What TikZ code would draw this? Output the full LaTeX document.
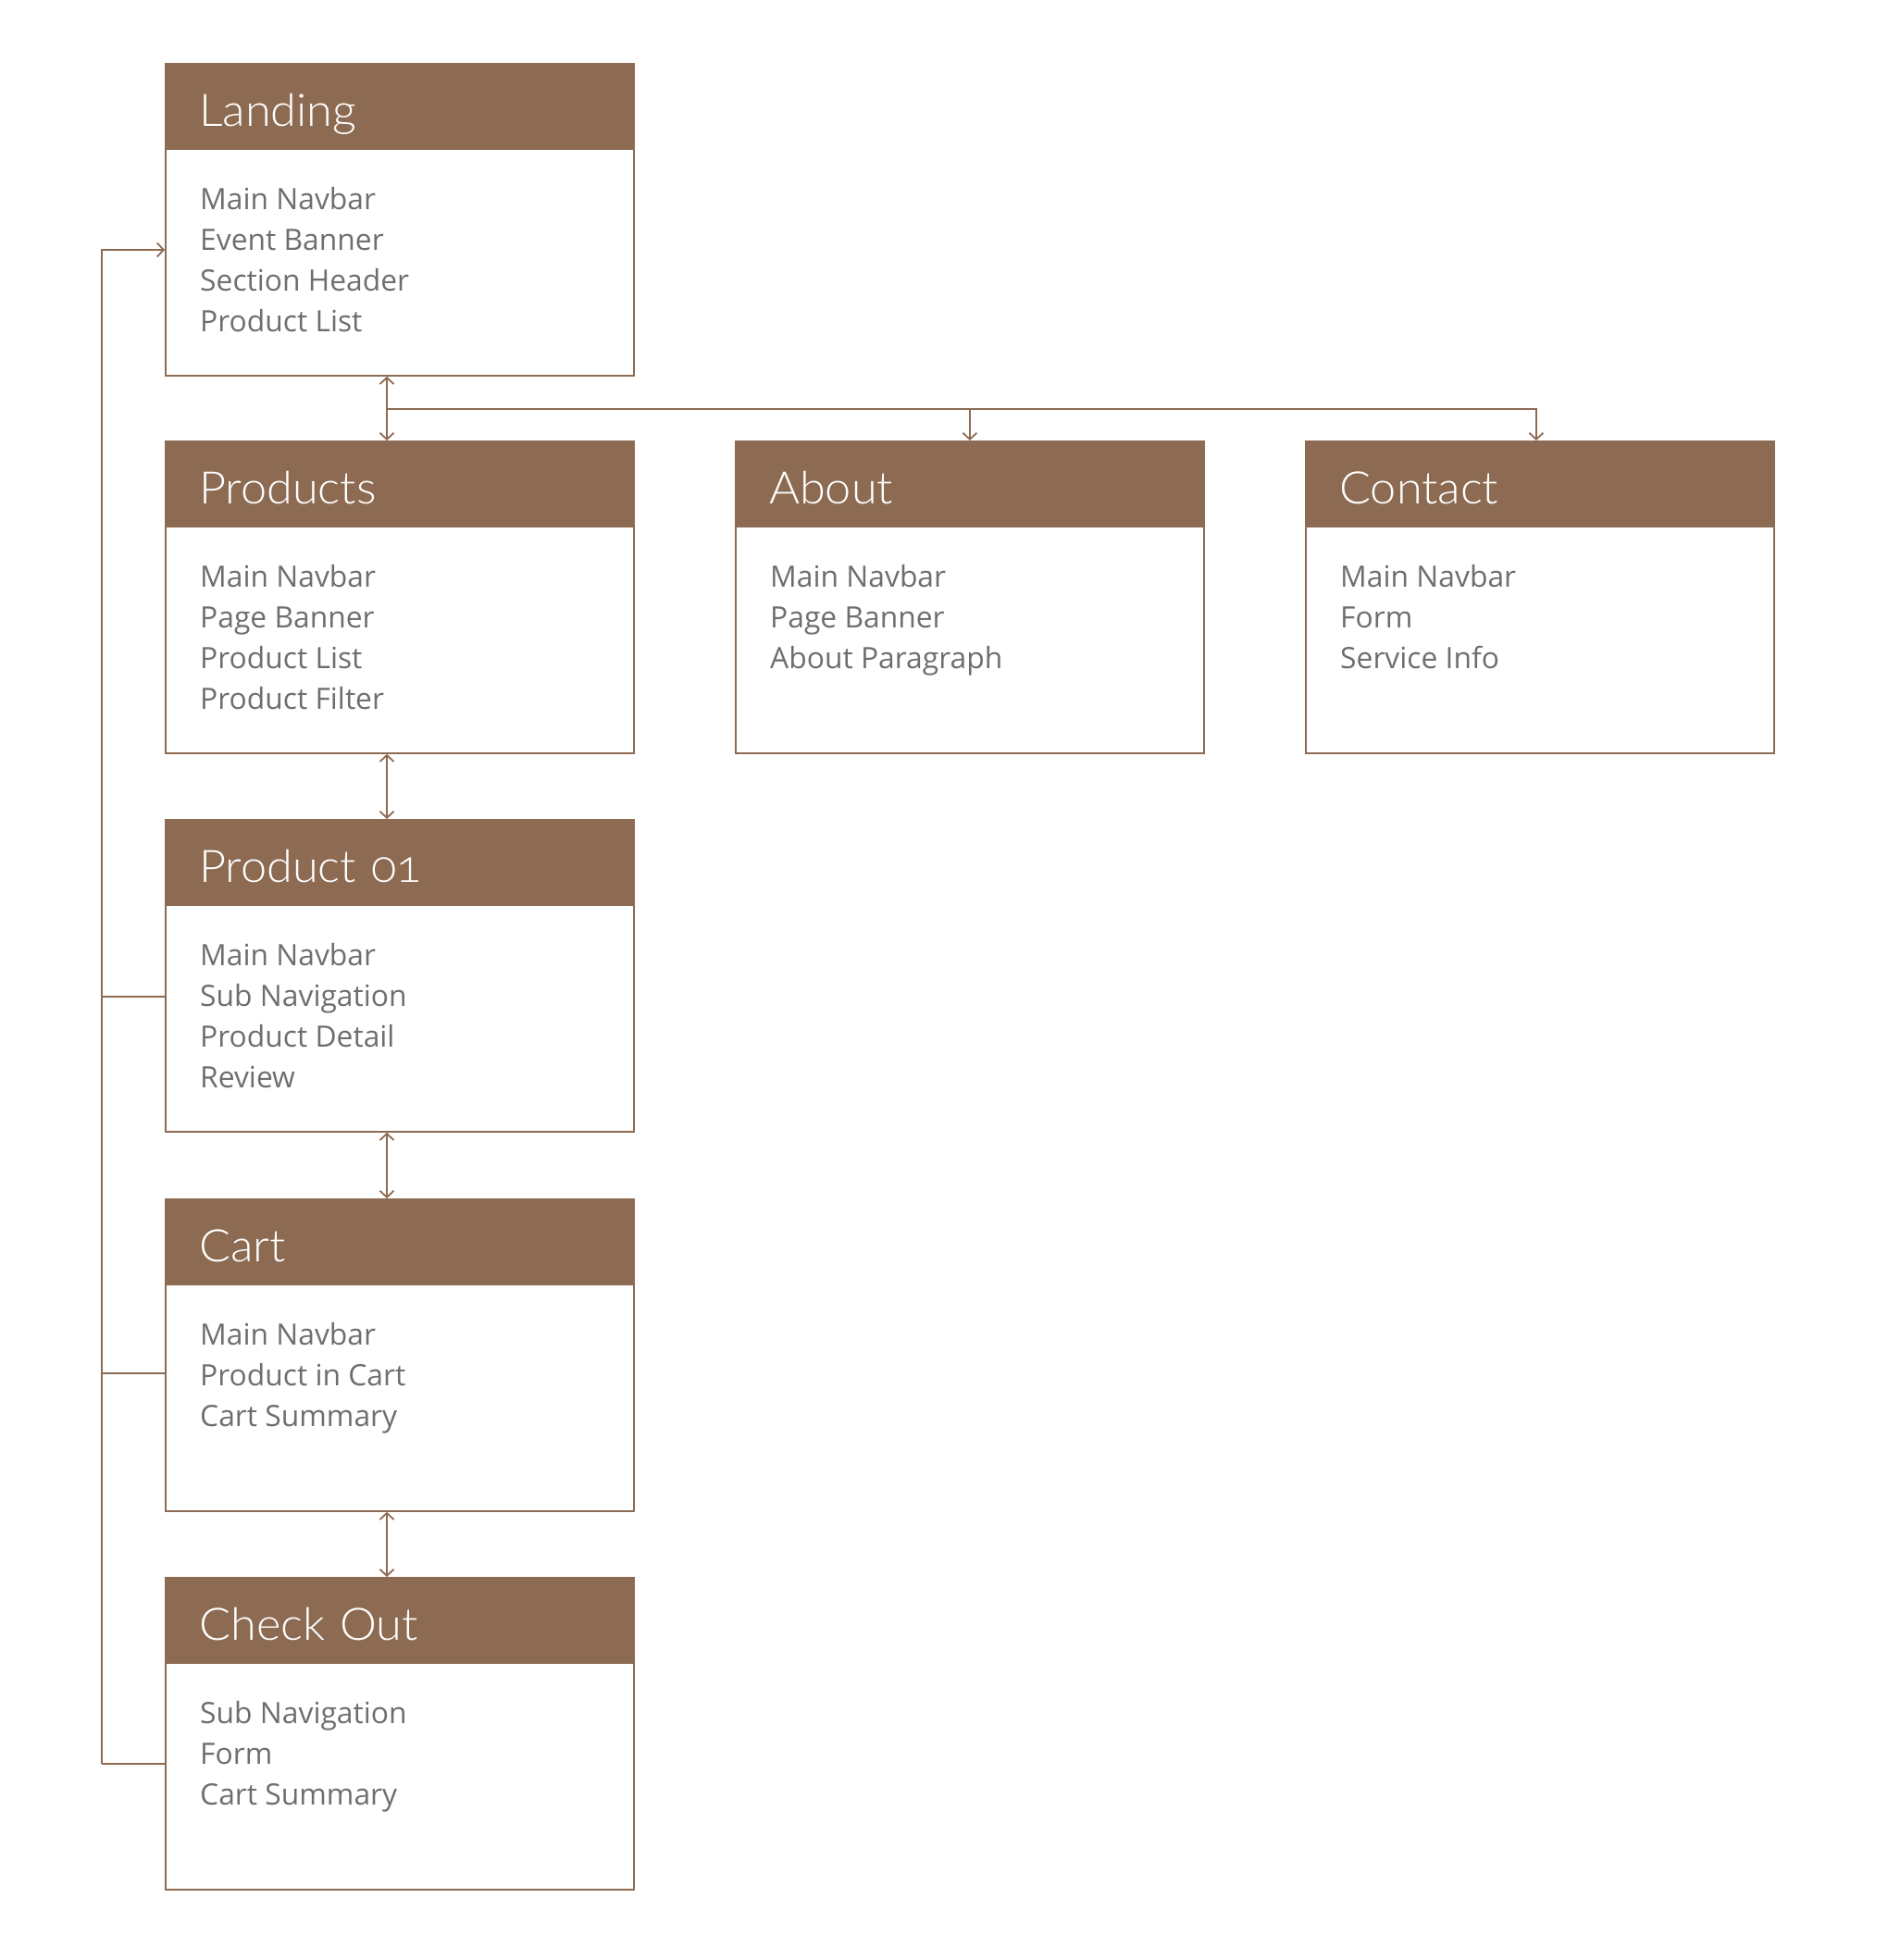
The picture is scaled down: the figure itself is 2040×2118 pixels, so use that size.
\documentclass[tikz,border=0pt]{standalone}
\usepackage{fontspec}
\setmainfont{Open Sans}
\newfontfamily\headfont{Lato Light}[Numbers=OldStyle,FakeStretch=1.04]
\usetikzlibrary{arrows.meta}
\definecolor{pagebrown}{HTML}{8D6B53}
\definecolor{itemgrey}{HTML}{6E6E6E}

\begin{document}
\begin{tikzpicture}[x=1pt,y=-1pt,>={Straight Barb[length=7pt,width=15pt]},
		page/.style={draw=pagebrown,line width=1.8pt,minimum width=506pt,minimum height=337pt,inner sep=0pt,anchor=north west},
		pagehead/.style={fill=pagebrown,text=white,anchor=north west,text width=432pt,inner xsep=37pt,inner ysep=0pt,
			text height=68pt,text depth=26pt,align=left,font=\headfont\fontsize{48.5}{58}\selectfont},
		pageitems/.style={text=itemgrey,anchor=base west,inner sep=0pt,align=left,font=\fontsize{31.8}{44}\selectfont},
		flow/.style={draw=pagebrown,line width=1.8pt}]
			\useasboundingbox (0,0) rectangle (2040,2118);

			% pages (item lists sit on the baseline of their last line)
			\node[page] (landing) at (178,68) {};
			\node[pagehead] at (landing.north west) {Landing};
			\node[pageitems] at ([shift={(38,290)}]landing.north west) {Main Navbar\\Event Banner\\Section Header\\Product List};

			\node[page] (products) at (178,476) {};
			\node[pagehead] at (products.north west) {Products};
			\node[pageitems] at ([shift={(38,290)}]products.north west) {Main Navbar\\Page Banner\\Product List\\Product Filter};

			\node[page] (about) at (794,476) {};
			\node[pagehead] at (about.north west) {About};
			\node[pageitems] at ([shift={(38,246)}]about.north west) {Main Navbar\\Page Banner\\About Paragraph};

			\node[page] (contact) at (1410,476) {};
			\node[pagehead] at (contact.north west) {Contact};
			\node[pageitems] at ([shift={(38,246)}]contact.north west) {Main Navbar\\Form\\Service Info};

			\node[page] (product) at (178,885) {};
			\node[pagehead] at (product.north west) {Product 01};
			\node[pageitems] at ([shift={(38,290)}]product.north west) {Main Navbar\\Sub Navigation\\Product Detail\\Review};

			\node[page] (cart) at (178,1295) {};
			\node[pagehead] at (cart.north west) {Cart};
			\node[pageitems] at ([shift={(38,246)}]cart.north west) {Main Navbar\\Product in Cart\\Cart Summary};

			\node[page] (checkout) at (178,1704) {};
			\node[pagehead] at (checkout.north west) {Check Out};
			\node[pageitems] at ([shift={(38,246)}]checkout.north west) {Sub Navigation\\Form\\Cart Summary};

			% links down the column
			\coordinate (fork) at (418,442);
			\draw[flow,<->] (landing.south -| fork) -- (products.north -| fork);
			\draw[flow,->] (fork) -| (about.north);
			\draw[flow,->] (fork) -| ([xshift=-4pt]contact.north);
			\draw[flow,<->] (products.south -| fork) -- (product.north -| fork);
			\draw[flow,<->] (product.south -| fork) -- (cart.north -| fork);
			\draw[flow,<->] (cart.south -| fork) -- (checkout.north -| fork);

			% way back to landing
			\coordinate (railtop) at (110,270);
			\coordinate (railproduct) at (110,1077);
			\coordinate (railcart) at (110,1484);
			\coordinate (railbottom) at (110,1906);
			\draw[flow,->] (railbottom) -- (railtop) -- (railtop -| landing.west);
			\draw[flow] (railproduct) -- (railproduct -| product.west);
			\draw[flow] (railcart) -- (railcart -| cart.west);
			\draw[flow] (railbottom) -- (railbottom -| checkout.west);
		\end{tikzpicture}
\end{document}
